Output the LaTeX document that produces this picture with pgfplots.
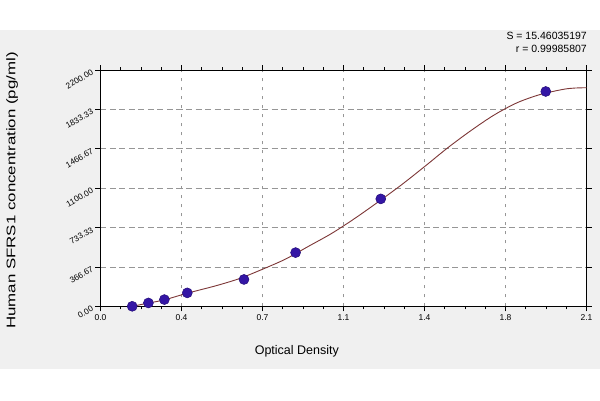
\documentclass[border=0pt]{standalone}
\usepackage{pgfplots}
\pgfplotsset{compat=1.18}
\usepackage{fontspec}
\setmainfont{Liberation Sans}
\definecolor{bggray}{RGB}{240,240,240}
\definecolor{gridgray}{RGB}{150,150,150}
\definecolor{curvecol}{RGB}{125,55,55}
\definecolor{markfill}{RGB}{52,22,165}
\definecolor{markdraw}{RGB}{35,12,120}
\begin{document}
\begin{tikzpicture}
\fill[white] (0pt,0pt) rectangle (600pt,400pt);
\fill[bggray] (0pt,31pt) rectangle (600pt,370pt);
\begin{axis}[
  at={(100.5pt,93.7pt)}, anchor=south west,
  scale only axis, width=486pt, height=236.3pt,
  xmin=0, xmax=2.1, ymin=0, ymax=2200,
  axis background/.style={fill=white},
  axis line style={black, line width=0.9pt},
  xtick={0,0.35,0.7,1.05,1.4,1.75,2.1},
  xticklabels={0.0,0.4,0.7,1.1,1.4,1.8,2.1},
  ytick={0,366.667,733.333,1100,1466.667,1833.333,2200},
  yticklabels={0.00,366.67,733.33,1100.00,1466.67,1833.33,2200.00},
  minor x tick num=3, minor y tick num=3,
  tick align=outside,
  major tick length=5pt, minor tick length=3pt,
  every tick/.style={black, line width=0.7pt},
  xmajorgrids, ymajorgrids,
  x grid style={gridgray, line width=0.8pt, dash pattern=on 3pt off 6pt},
  y grid style={gridgray, line width=0.8pt, dash pattern=on 6pt off 3.5pt},
  tick label style={font=\fontsize{8.5}{10}\selectfont, text=black},
  yticklabel style={rotate=30, anchor=east, font=\fontsize{8.3}{10}\selectfont},
  xlabel={Optical Density},
  ylabel={\scalebox{1.35}[1]{Human SFRS1 concentration (pg/ml)}},
  label style={font=\fontsize{12.5}{14}\selectfont, text=black},
  xlabel style={at={(axis description cs:0.404,-0.189)}, anchor=center},
  ylabel style={at={(axis description cs:-0.182,0.49)}, anchor=center, rotate=0},
  clip=true,
]
\addplot[curvecol, line width=0.9pt, smooth, tension=0.5] coordinates {
  (0.137,0) (0.207,30) (0.276,60) (0.375,122) (0.5,192) (0.6,258)
  (0.7,345) (0.8,440) (0.9,560) (1.0,680) (1.1,820) (1.2,972)
  (1.3,1130) (1.4,1300) (1.5,1475) (1.6,1635) (1.7,1780) (1.8,1895)
  (1.9,1972) (2.0,2020) (2.05,2032) (2.1,2035)
};
\addplot[only marks, mark=*, mark size=5pt,
  mark options={fill=markfill, draw=markdraw, line width=0.5pt}] coordinates {
  (0.137,0) (0.207,31.25) (0.276,62.5) (0.375,125) (0.620,250)
  (0.843,500) (1.211,1000) (1.924,2000)
};
\end{axis}
\node[anchor=east, font=\fontsize{10.5}{12}\selectfont, text=black, inner sep=0pt] at (587pt,364pt) {S = 15.46035197};
\node[anchor=east, font=\fontsize{10.5}{12}\selectfont, text=black, inner sep=0pt] at (587pt,351pt) {r = 0.99985807};
\end{tikzpicture}
\end{document}
